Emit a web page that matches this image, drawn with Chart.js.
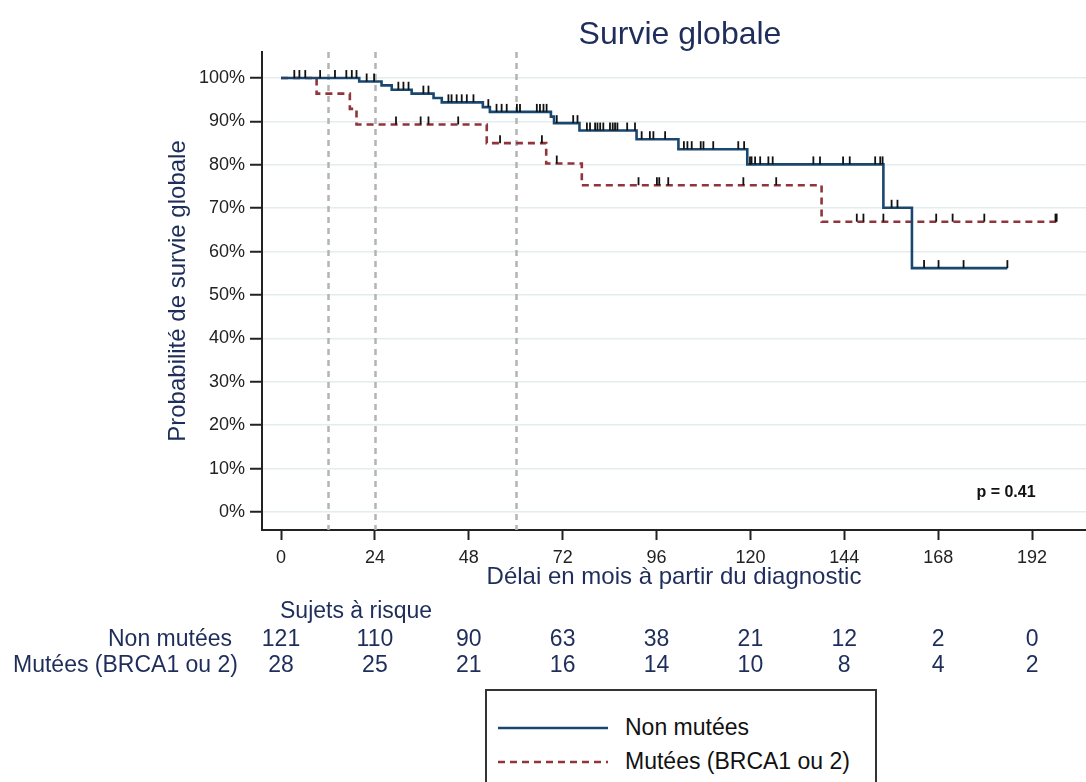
<!DOCTYPE html>
<html lang="fr">
<head>
<meta charset="utf-8">
<title>Survie globale</title>
<script src="https://cdn.jsdelivr.net/npm/chart.js@4.4.1/dist/chart.umd.min.js"></script>
<style>
  html, body { margin: 0; padding: 0; background: #fff; }
  body { width: 1086px; height: 782px; overflow: hidden; position: relative; font-family: "Liberation Sans", Arial, sans-serif; }
  #wrap { position: absolute; left: 0; top: 0; width: 1086px; height: 782px; }
  #title { position: absolute; left: 480px; width: 400px; top: 13px; text-align: center; font-size: 32px; line-height: 40px; color: #1e2d5a; }
  #legend { position: absolute; left: 485px; top: 689px; width: 388px; height: 130px; border: 2px solid #333; background: #fff; }
  #legend .row { position: absolute; left: 0; width: 100%; height: 30px; }
  #legend svg { position: absolute; left: 11px; top: 0; }
  #legend span { position: absolute; left: 138px; top: 0; font-size: 23px; line-height: 30px; color: #111; white-space: nowrap; }
</style>
</head>
<body>
<div id="wrap"><canvas id="km" width="1086" height="782"></canvas></div>
<div id="title">Survie globale</div>
<div id="legend">
  <div class="row" style="top:21px">
    <svg width="112" height="30"><line x1="0" y1="16" x2="110" y2="16" stroke="#1a476f" stroke-width="2.5"/></svg>
    <span>Non mutées</span>
  </div>
  <div class="row" style="top:55px">
    <svg width="112" height="30"><line x1="0" y1="16" x2="110" y2="16" stroke="#90353b" stroke-width="2.5" stroke-dasharray="7 5"/></svg>
    <span>Mutées (BRCA1 ou 2)</span>
  </div>
</div>
<script>
// Kaplan-Meier steps: time (months) and survival (%) after each drop
const nonTimes = [0, 20, 25.7, 28.3, 33.4, 39, 41.1, 51.6, 53.4, 69, 69.8, 76.3, 90.9, 101.6, 119.2, 154, 161.3, 185.7];
const nonSurv  = [100, 99.2, 98.3, 97.3, 96.4, 95.4, 94.4, 93.3, 92.2, 91.1, 89.6, 87.9, 85.9, 83.6, 80.1, 70.1, 56.2, 56.2];
const mutTimes = [0, 9.1, 17.6, 19.3, 52.6, 67.8, 76.9, 138.2, 198.3];
const mutSurv  = [100, 96.4, 92.9, 89.3, 85.0, 80.3, 75.3, 66.9, 66.9];

// censored observations (months)
const nonCensor = [3.4, 4.7, 6.2, 10, 13.8, 16.7, 18.1, 19.3, 21.9, 23.8, 30, 31.3, 32.6, 36.4, 37.7,
  42.8, 43.6, 44.9, 46.2, 47.5, 49.2, 53, 55.1, 56.4, 57.7, 60.3, 61.1, 65.4, 66.2, 67.1, 67.9,
  70.5, 74.7, 75.8, 78.2, 79, 80.3, 80.9, 81.6, 82.4, 84.1, 84.8, 85.4, 86, 88.5, 90.5, 92.2,
  94.3, 95.2, 98.2, 103, 103.9, 105, 107.3, 108, 110.5, 116.9, 118.4, 119.9, 120.3, 121.2,
  122.5, 124.6, 125.7, 136.1, 137.8, 143.7, 145.4, 151.9, 153.2, 153.8, 156.1, 157.6, 164.4,
  168.1, 174.5, 185.7];
const mutCensor = [29.4, 35.7, 37.7, 45.3, 56, 66.7, 70.5, 91.4, 96.1, 96.7, 99, 118.2, 126.6,
  147.2, 148.9, 154, 167.5, 171.7, 179.8, 198.0, 198.3];

// reference lines (months)
const refLines = [12, 24, 60];

// numbers at risk
const riskTimes = [0, 24, 48, 72, 96, 120, 144, 168, 192];
const riskNon = [121, 110, 90, 63, 38, 21, 12, 2, 0];
const riskMut = [28, 25, 21, 16, 14, 10, 8, 4, 2];

const xTicks = [0, 24, 48, 72, 96, 120, 144, 168, 192];
const yTicks = [0, 10, 20, 30, 40, 50, 60, 70, 80, 90, 100];
const pText = 'p = 0.41';

const NAVY = '#1e2d5a';
const FONT = '"Liberation Sans", Arial, sans-serif';
Chart.defaults.font.family = FONT;

function survAt(times, surv, t) {
    let s = surv[0];
    for (let i = 0; i < times.length; i++) {
        if (times[i] <= t) s = surv[i];
    }
    return s;
}

const kmExtras = {
    id: 'kmExtras',
    beforeDatasetsDraw(chart) {
        const { ctx, chartArea, scales: { x } } = chart;
        ctx.save();
        ctx.strokeStyle = '#b4b4b4';
        ctx.lineWidth = 2.5;
        ctx.setLineDash([6, 5]);
        refLines.forEach(v => {
            const px = Math.round(x.getPixelForValue(v)) + 0.5;
            ctx.beginPath();
            ctx.moveTo(px, chartArea.top);
            ctx.lineTo(px, chartArea.bottom);
            ctx.stroke();
        });
        ctx.restore();
    },
    afterDatasetsDraw(chart) {
        const { ctx, scales: { x, y } } = chart;
        ctx.save();
        ctx.strokeStyle = '#111';
        ctx.lineWidth = 1.8;
        const marks = (times, surv, cens) => {
            cens.forEach(t => {
                const px = x.getPixelForValue(t);
                const py = y.getPixelForValue(survAt(times, surv, t));
                ctx.beginPath();
                ctx.moveTo(px, py);
                ctx.lineTo(px, py - 8);
                ctx.stroke();
            });
        };
        marks(nonTimes, nonSurv, nonCensor);
        marks(mutTimes, mutSurv, mutCensor);
        ctx.restore();
    },
    afterDraw(chart) {
        const { ctx, scales: { x } } = chart;
        ctx.save();
        // p value
        ctx.fillStyle = '#111';
        ctx.font = 'bold 16px ' + FONT;
        ctx.textAlign = 'center';
        ctx.textBaseline = 'middle';
        ctx.fillText(pText, 1006, 493);

        // risk table
        ctx.fillStyle = NAVY;
        ctx.font = '23px ' + FONT;
        ctx.textAlign = 'left';
        ctx.fillText('Sujets à risque', x.getPixelForValue(0) - 1, 612);
        ctx.textAlign = 'right';
        ctx.fillText('Non mutées', 232, 640);
        ctx.fillText('Mutées (BRCA1 ou 2)', 238, 666);
        ctx.textAlign = 'center';
        riskTimes.forEach((t, i) => {
            const px = x.getPixelForValue(t);
            ctx.fillText(String(riskNon[i]), px, 640);
            ctx.fillText(String(riskMut[i]), px, 666);
        });
        ctx.restore();
    }
};

new Chart(document.getElementById('km'), {
    type: 'line',
    data: {
        datasets: [
            {
                label: 'Non mutées',
                data: nonTimes.map((t, i) => ({ x: t, y: nonSurv[i] })),
                borderColor: '#1a476f',
                borderWidth: 2.6,
                stepped: true,
                pointRadius: 0,
                fill: false
            },
            {
                label: 'Mutées (BRCA1 ou 2)',
                data: mutTimes.map((t, i) => ({ x: t, y: mutSurv[i] })),
                borderColor: '#90353b',
                borderWidth: 2.6,
                borderDash: [7, 5],
                stepped: true,
                pointRadius: 0,
                fill: false
            }
        ]
    },
    options: {
        responsive: false,
        animation: false,
        events: [],
        layout: { padding: { left: 164, top: 52, right: 0, bottom: 190 } },
        plugins: {
            legend: { display: false },
            title: { display: false },
            tooltip: { enabled: false }
        },
        scales: {
            x: {
                type: 'linear',
                min: -4.86,
                max: 205.8,
                afterBuildTicks: s => { s.ticks = xTicks.map(v => ({ value: v })); },
                afterFit: s => { s.height = 62; },
                grid: { drawOnChartArea: false, tickLength: 10, tickColor: '#222', tickWidth: 2 },
                border: { color: '#222', width: 2 },
                ticks: { color: '#222', font: { size: 18 }, padding: 7, maxRotation: 0 },
                title: { display: true, text: 'Délai en mois à partir du diagnostic', color: NAVY, font: { size: 24 }, padding: 0 }
            },
            y: {
                type: 'linear',
                min: -4.15,
                max: 106,
                afterBuildTicks: s => { s.ticks = yTicks.map(v => ({ value: v })); },
                afterFit: s => { s.width = 98; },
                grid: { color: '#e3ecee', lineWidth: 1.5, tickLength: 12, tickColor: '#222', tickWidth: 2 },
                border: { color: '#222', width: 2 },
                ticks: { color: '#222', font: { size: 18 }, padding: 5, callback: v => v + '%' },
                title: { display: true, text: 'Probabilité de survie globale', color: NAVY, font: { size: 24 }, padding: 0 }
            }
        }
    },
    plugins: [kmExtras]
});
</script>
</body>
</html>
